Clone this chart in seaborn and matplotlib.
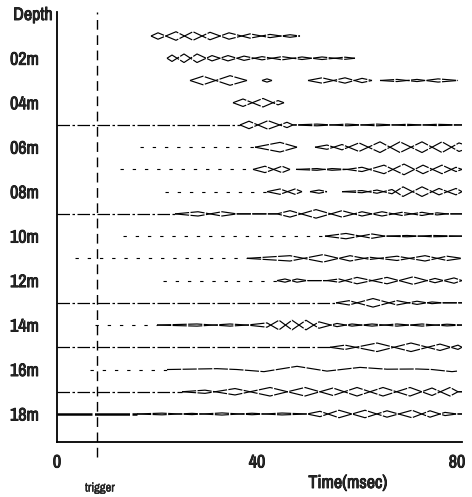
import matplotlib
matplotlib.use("Agg")
import matplotlib.pyplot as plt
import matplotlib.patheffects as pe
from matplotlib import font_manager
import pandas as pd
import seaborn as sns

# --- data ---
depths = list(range(1, 19))
label_depths = [2, 4, 6, 8, 10, 12, 14, 16, 18]
depth_labels = ["02m", "04m", "06m", "08m", "10m", "12m", "14m", "16m", "18m"]
time_ticks = [0, 40, 80]
trigger_ms = 8

# flat part of each record before the first arrival (msec), None = not visible
base_from = [None, None, None, None, 0, 16.6, 12.6, 21.6, 0, 13.2, 3.6, 21.2, 0, 7.6, 0, 6.6, 0, 0]
base_to = [None, None, None, None, 36.6, 39.6, 39.2, 42, 23.6, 53.6, 38, 44, 55.8, 20, 54.6, 22, 25, 16]
base_kind = [None, None, None, None, "dense", "sparse", "sparse", "sparse", "dense", "sparse",
             "sparse", "sparse", "dense", "sparse", "dense", "sparse", "dense", "heavy"]

# two records of opposite polarity overlaid (False = only one record visible)
paired = [True] * 15 + [False, True, True]

# wave extrema per depth: (time msec, amplitude), None = gap in the trace
tr01 = [(18.8, 0), (20.2, 3), (23.8, -4), (27.2, 4), (30.6, -3.5), (34.4, 3), (38.6, -2), (42.6, 1.5),
        (46.6, -1.2), (48.6, 0)]
tr02 = [(22.0, 0), (23.0, 3), (25.4, -4), (28.0, 4), (31.0, -2.5), (34.2, 2.5), (37.4, -2), (41.0, 1.5),
        (45.0, -1.5), (49.0, 1.2), (53.0, -1.2), (57.6, 1), (59.6, 0)]
tr03 = [(26.6, 0), (29.2, 4), (34.6, -4.5), (38.0, 0), None, (41.0, 0), (42.0, 1.5), (43.0, 0), None,
        (50.2, 0), (53.0, 2.5), (57.6, -2.5), (61.0, 2), (63.0, 0), None,
        (64.6, 0), (68.0, -1), (72.0, 1), (76.2, -1.5), (80.2, 0)]
tr04 = [(35.2, 0), (37.2, 3.5), (41.2, -4), (44.2, 2), (45.4, 0)]
tr05 = [(36.6, 0), (38.4, 3.5), (42.2, -4), (46.0, 2.5), (47.2, 0), (52, 0.8), (58, -0.8), (64, 0.8),
        (70, -0.6), (76, 0.6), (81, 0)]
tr06 = [(39.6, 0), (44.6, -4.5), (48.0, 0), None, (51.6, 0), (54.0, 2), (57.0, -2.5), (60.4, 4),
        (64.6, -5), (68.6, 5), (73.0, -5), (77.0, 5), (80.4, -4), (81, -3)]
tr07 = [(39.2, 0), (41.6, 3), (45.0, -3), (46.6, 0), None, (47.8, 0), (52, 0.8), (55, -0.8), (58, 0),
        (61, -2), (65.4, 4), (69.4, -5), (73.2, 4), (77, -4), (79.8, 2), (81, 0)]
tr08 = [(42, 0), (44.6, 2.5), (47.6, -2.5), (49, 0), None, (50.6, 0), (52.4, 1.5), (54, 0), None,
        (57, 0), (61, 1), (64, -1.5), (67, 2), (69.2, -4.5), (73, 4.5), (76.4, -3), (79.8, 3), (81, 0)]
tr09 = [(23.6, 0), (28.2, -2), (33, 2), (36, 0), (44, 0), (46.6, 3), (51.8, -4), (57, 3), (61, -2),
        (65, 2), (69, -1.5), (73, 1.5), (76, -1), (78, 0), (81, 0)]
tr10 = [(53.6, 0), (57.8, 2.5), (63, -2), (65.6, 0), (70, 0.6), (75, -0.6), (81, 0)]
tr11 = [(38, 0), (46.6, 2.5), (53.2, -3.5), (58.6, 2.5), (62.6, -1), (68, 2), (73.6, -2.5), (78, 2), (81, 0)]
tr12 = [(44, 0), (45.6, -1.5), (48, 1.5), (50, 0), (54, 0), (56.4, 1.5), (60, -3), (66, 3), (71.2, -3.5),
        (75.6, 2), (79.4, -2.5), (81, 0)]
tr13 = [(55.8, 0), (58.4, -2), (63.2, 4), (68, -2), (72, 1.5), (75, -0.8), (77, 0), (81, 0)]
tr14 = [(20, 0), (28, -1), (34.6, 1), (38, 0), (42, -2), (44.4, 4.5), (47, -4.5), (49.8, 4.5), (52.4, -3),
        (56, 1.5), (59, -1), (63, 1), (68, -1), (73, 1), (78, -0.8), (81, 0)]
tr15 = [(54.6, 0), (57.6, 2), (64, -4), (70.8, 4), (76.6, -3), (80.2, 2), (81, 0)]
tr16 = [(22, 0), (32, 0.8), (36, 0), (41.4, -2), (48, 3), (54, -1.5), (60.6, 2), (66, 0.3), (72, 0.5),
        (75, 0), (79, -2), (80, -1.5)]
tr17 = [(25, 0), (29.6, 1.5), (35.6, -3), (42.6, 4), (49.6, -4), (55.2, 3.5), (60, -4), (65.2, 4),
        (70.6, -4), (75, 3.5), (78.6, -4), (80.2, 0), (81, 0)]
tr18 = [(16, 0), (21, 0.8), (27, -0.6), (33, 1), (39, -0.7), (45, 0.9), (50, 0), (52.6, 2.5), (56.4, -3.5),
        (61.6, 3.5), (66, -3), (71, 3.5), (74.6, -3), (77.6, 1.5), (80, 0), (81, 0)]

traces = [tr01, tr02, tr03, tr04, tr05, tr06, tr07, tr08, tr09,
          tr10, tr11, tr12, tr13, tr14, tr15, tr16, tr17, tr18]

GAIN = 0.048  # amplitude unit -> depth axis units

# --- build long tables ---
wave_rows = []
for depth, trace, pair in zip(depths, traces, paired):
    seg = 0
    for pt in trace:
        if pt is None:
            seg += 1
            continue
        t, a = pt
        for pol in ((1, -1) if pair else (1,)):
            wave_rows.append({"time": t, "y": depth - pol * a * GAIN, "uid": f"{depth}-{seg}-{pol}"})
waves = pd.DataFrame(wave_rows)

base_rows = []
for depth, t0, t1, kind in zip(depths, base_from, base_to, base_kind):
    if t0 is None:
        continue
    base_rows.append({"time": t0, "y": depth, "uid": depth, "kind": kind})
    base_rows.append({"time": t1, "y": depth, "uid": depth, "kind": kind})
bases = pd.DataFrame(base_rows)

# narrow font like the scanned figure, if one is installed
font_family, font_stretch = "DejaVu Sans", "normal"
for f in font_manager.fontManager.ttflist:
    if "Narrow" in f.name or "Condensed" in f.name:
        font_family = f.name
        break
    if f.stretch in ("condensed", "semi-condensed") and f.name in ("DejaVu Sans", "Liberation Sans"):
        font_family, font_stretch = f.name, f.stretch

# --- plot ---
sns.set_style("white")
plt.rcParams["font.family"] = [font_family, "DejaVu Sans"]
plt.rcParams["font.stretch"] = font_stretch

# scanned print looks heavier than the installed bold
heavy = [pe.withStroke(linewidth=0.6, foreground="black")]

fig = plt.figure(figsize=(4.72, 4.97), dpi=100)
ax = fig.add_axes([57 / 472, 1 - 442 / 497, 405 / 472, 430 / 497])

styles = {
    "dense": dict(lw=0.9, linestyle=(0, (10, 2, 2, 2))),
    "sparse": dict(lw=0.8, linestyle=(0, (3, 8))),
    "heavy": dict(lw=1.8, linestyle=(0, (14, 1))),
}
for kind, st in styles.items():
    sub = bases[bases["kind"] == kind]
    sns.lineplot(data=sub, x="time", y="y", units="uid", estimator=None, sort=False,
                 color="black", ax=ax, legend=False, **st)

sns.lineplot(data=waves, x="time", y="y", units="uid", estimator=None, sort=False,
             color="black", lw=0.85, linestyle=(0, (12, 1.2)), ax=ax, legend=False)

ax.axvline(trigger_ms, ymin=-0.035, ymax=1, color="black", lw=1.0,
           linestyle=(0, (7, 4)), clip_on=False)

ax.set_xlim(0, 81)
ax.set_ylim(19.26, -0.08)
ax.set_xticks(time_ticks)
ax.set_xticklabels([str(t) for t in time_ticks], fontsize=13, fontweight="bold")
ax.set_yticks(label_depths)
ax.set_yticklabels(depth_labels, fontsize=13, fontweight="bold")
for lab in ax.get_xticklabels() + ax.get_yticklabels():
    lab.set_path_effects(heavy)
ax.tick_params(axis="x", length=0, pad=9)
ax.tick_params(axis="y", length=0, pad=13)
ax.set_xlabel("")
ax.set_ylabel("")
sns.despine(ax=ax, top=True, right=True)
for side in ("left", "bottom"):
    ax.spines[side].set_linewidth(1.3)
    ax.spines[side].set_color("black")

fig.text(33 / 472, 1 - 15 / 497, "Depth", ha="center", va="center", fontsize=13,
         fontweight="bold", path_effects=heavy)
fig.text(100 / 472, 1 - 488 / 497, "trigger", ha="center", va="center", fontsize=9,
         path_effects=[pe.withStroke(linewidth=0.3, foreground="black")])
fig.text(348 / 472, 1 - 483 / 497, "Time(msec)", ha="center", va="center", fontsize=13,
         fontweight="bold", path_effects=heavy)

fig.savefig("out.png", dpi=100)
